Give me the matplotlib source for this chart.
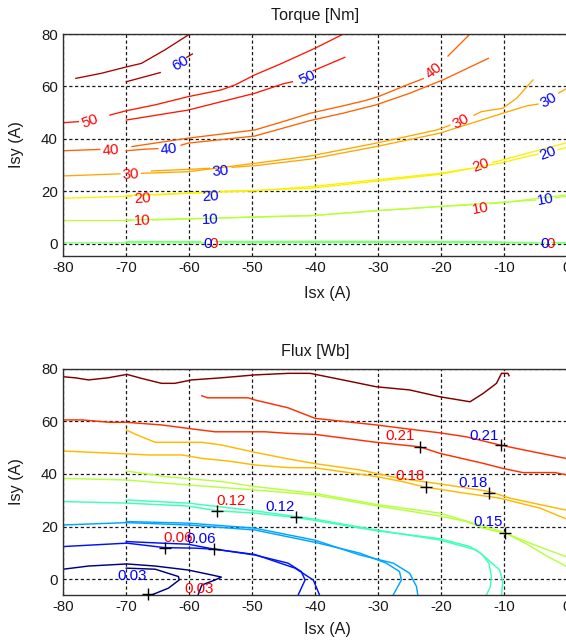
import numpy as np
import matplotlib
matplotlib.use("Agg")
import matplotlib.pyplot as plt
from matplotlib import colors

plt.rcParams['font.family'] = ['Liberation Sans', 'DejaVu Sans']
plt.rcParams['axes.unicode_minus'] = False

# ---------------- Torque [Nm] contour lines (two contour sets) ----------------
torque_levels = [0, 10, 20, 30, 40, 50, 60]

# set A (red labels), None = gap left for an inline label
tq_A_0 = [(-80, 0.4), (-57.4, 0.4), None, (-55.0, 0.4), (-40, 0.5), (-20, 0.5), (-10, 0.4), (-3.6, 0.3), None, (-1.6, 0.3), (0, 0.3)]
tq_A_10 = [(-80, 8.9), (-70, 8.9), (-69.2, 8.9), None, (-65.8, 9.1), (-60.2, 9.5), (-49.6, 10.2), (-40.8, 10.7), (-30.3, 12.7), (-20.2, 14.2), (-15.2, 14.9), None, (-12.2, 15.3), (-10.2, 15.7), (0, 18.7)]
tq_A_20 = [(-80, 17.4), (-70, 18.1), (-69.2, 18.2), None, (-65.6, 18.6), (-60.2, 19.3), (-49.6, 20.2), (-40.8, 21.8), (-30.3, 24.4), (-20.2, 26.9), (-15.6, 28.7), None, (-11.8, 31.1), (-10.2, 32.0), (-5, 35.4), (0, 38.6)]
tq_A_30 = [(-80, 25.9), (-71, 26.7), None, (-67.6, 26.9), (-60.2, 27.5), (-49.6, 30.7), (-40.8, 33.5), (-30.3, 38.4), (-20.7, 43.4), (-18.6, 45.2), None, (-14.8, 49.0), (-13.6, 50.4), (-10.2, 51.7), (-8, 55.5), (-5.4, 62.5)]
tq_A_40 = [(-80, 35.5), (-74.2, 36.0), None, (-69.1, 37.1), (-60.2, 40.3), (-49.6, 43.4), (-44.3, 47.2), (-40.8, 49.8), (-35.6, 52.6), (-32.1, 54.6), (-30, 56.1), (-25, 61.0), (-22.8, 63.0), None, (-18.9, 71.6), (-15.4, 80)]
tq_A_50 = [(-80, 46.2), (-77.6, 46.6), None, (-72.6, 49.1), (-69.9, 50.8), (-65.4, 53.0), (-60.2, 56.1), (-54.9, 58.7), (-52.7, 60.6), (-49.6, 64.4), (-45.3, 68.8), (-40, 74.6), (-35.5, 80)]
tq_A_60 = [(-78, 63.1), (-74, 65.0), (-69.9, 67.5), (-67.6, 68.8), (-63.9, 73.9), (-59.9, 80)]

# set B (blue labels)
tq_B_0 = [(-70, 0.9), (-58.2, 0.9), None, (-55.8, 0.9), (-40, 1.0), (-15, 0.9), (-8, 0.6), (-4.8, 0.5), None, (-2.4, 0.5), (0, 0.5)]
tq_B_10 = [(-70, 9.1), (-60.2, 9.6), (-58.3, 9.7), None, (-55.1, 9.9), (-49.6, 10.3), (-40, 10.9), (-30.3, 12.6), (-20.2, 14.3), (-10.2, 15.9), (-5, 16.7), None, (-1.8, 17.6), (0, 18.2)]
tq_B_20 = [(-70, 18.4), (-60.2, 19.4), (-58.3, 19.6), None, (-55, 20.0), (-49.6, 20.4), (-40.8, 21.2), (-30.3, 23.9), (-20.2, 26.5), (-10.2, 31.0), (-6.4, 33.3), (-4.6, 34.2), None, (-1.4, 35.9), (0, 36.8)]
tq_B_30 = [(-66, 27.8), (-60.2, 28.4), (-56.8, 28.8), None, (-53.2, 29.2), (-49.6, 29.8), (-40.8, 32.3), (-30.3, 37.1), (-20.2, 42.2), (-14.4, 46.6), (-10.2, 49.8), (-6.4, 52.6), (-4.6, 53.3), None, (-1.3, 57.5), (0, 59.3)]
tq_B_40 = [(-70, 35.5), (-67, 36.1), (-65, 36.3), None, (-61.3, 37.6), (-60.2, 38.4), (-49.6, 41.1), (-40.8, 47.0), (-35.6, 49.8), (-30.3, 53.0), (-25, 57.4), (-19.7, 62.5), (-12.5, 70.7)]
tq_B_50 = [(-70, 47.2), (-60.2, 51.0), (-54.9, 54.2), (-49.6, 57.4), (-45.1, 61.0), (-43.6, 61.8), None, (-40.3, 66.0), (-35.3, 71.1)]
tq_B_60 = [(-70, 61.8), (-64.6, 65.3), None, (-60.4, 71.1), (-59.5, 72.4)]

torque_A_lines = [tq_A_0, tq_A_10, tq_A_20, tq_A_30, tq_A_40, tq_A_50, tq_A_60]
torque_B_lines = [tq_B_0, tq_B_10, tq_B_20, tq_B_30, tq_B_40, tq_B_50, tq_B_60]

torque_red_label_text = ["50", "40", "30", "20", "10", "0", "40", "30", "20", "10", "0"]
torque_red_label_x = [-75.8, -72.5, -69.3, -67.4, -67.5, -56.2, -21.1, -16.8, -13.7, -13.7, -2.6]
torque_red_label_y = [46.6, 35.8, 26.5, 17.4, 9.0, 0.0, 66.0, 46.7, 29.8, 13.6, 0.0]
torque_red_label_rot = [20, 4, 3, 3, 2, 0, 38, 28, 20, 10, 0]

torque_blue_label_text = ["60", "50", "40", "30", "20", "10", "0", "30", "20", "10", "0"]
torque_blue_label_x = [-61.4, -41.3, -63.2, -55.0, -56.6, -56.7, -57.0, -2.9, -3.0, -3.4, -3.6]
torque_blue_label_y = [68.8, 63.4, 36.2, 27.7, 17.9, 9.2, 0.0, 54.9, 34.4, 16.8, 0.0]
torque_blue_label_rot = [30, 25, 5, 5, 3, 2, 0, 30, 20, 10, 0]

# ---------------- Flux [Wb] contour lines ----------------
flux_levels_A = [0.03, 0.06, 0.09, 0.12, 0.15, 0.18, 0.21, 0.24]
flux_levels_B = [0.03, 0.06, 0.09, 0.12, 0.15, 0.18, 0.21]

fx_A_003 = [(-80, 3.8), (-76, 5.0), (-69.9, 5.8), (-65.4, 5.0), (-60.2, 3.5), (-56.4, 1.6), (-54.9, 0.8), (-55.9, -0.3), (-58, -2.2), (-58.6, -6)]
fx_A_006 = [(-80, 12.4), (-69.9, 13.7), (-63.9, 12.0), (-59.1, 11.8), (-55.9, 11.4), (-49.6, 9.2), (-44.3, 6.1), (-42.2, 2.9), (-41.6, -0.3), (-42.7, -6)]
fx_A_009 = [(-80, 20.6), (-69.9, 21.5), (-60.2, 20.6), (-49.6, 18.7), (-40, 14.0), (-32.9, 9.9), (-28.7, 6.1), (-26.6, 2.9), (-26.3, -0.3), (-27.6, -6)]
fx_A_012 = [(-80, 29.5), (-69.9, 28.9), (-60.2, 27.8), (-55.6, 26.0), (-49.6, 25.1), (-43.2, 23.5), (-40, 22.3), (-30.3, 18.4), (-20.2, 15.4), (-15.4, 12.4), (-13.5, 9.5), (-12.4, 6.0), (-12.0, 1.0), (-12.2, -3), (-12.8, -6)]
fx_A_015 = [(-80, 38.3), (-70, 37.7), (-60.2, 35.8), (-49.6, 33.9), (-40, 32.0), (-30.3, 27.9), (-20.2, 24.0), (-16, 21.9), (-13.3, 19.4), (-9.6, 17.3), (-5.9, 13.7), (0, 8.4)]
fx_A_018 = [(-80, 48.7), (-71.8, 47.8), (-66.5, 47.2), (-61.2, 47.2), (-58, 45.9), (-53.8, 44.9), (-49.6, 43.4), (-44.3, 42.4), (-40, 42.3), (-30.3, 39.0), (-26.6, 37.3), (-22.3, 34.9), (-16, 32.6), (-10.7, 30.8), (-4.3, 27.0), (0, 22.8)]
fx_A_021 = [(-80, 60.5), (-77, 60.5), (-72.6, 59.6), (-70, 59.6), (-64.4, 58.6), (-59.6, 57.1), (-55.9, 56.0), (-48, 56.0), (-44.3, 55.4), (-40, 55.0), (-30.3, 52.0), (-23.4, 50.3), (-20.2, 47.8), (-13.3, 44.0), (-10.2, 42.1), (-7, 40.5), (-1.9, 40.5), (0, 39.6)]
fx_A_024 = [(-80, 76.9), (-78.1, 76.5), (-76, 75.7), (-72.9, 76.5), (-69.9, 77.8), (-67.6, 76.3), (-64.4, 74.4), (-62.3, 74.4), (-59.6, 75.7), (-54.9, 76.5), (-49.6, 77.6), (-44.3, 78.2), (-40.8, 78.2), (-35.6, 75.7), (-30.3, 73.1), (-25, 71.9), (-20.2, 69.3), (-15.4, 67.4), (-13.3, 70.6), (-11.2, 74.4), (-10.4, 78.2), (-9.4, 78.2), (-9.2, 77.3)]

fx_B_003 = [(-70, 4.2), (-65.4, 3.8), (-61.7, 1.0), (-61.6, -0.3), (-63.3, -3.4), (-66, -6)]
fx_B_006 = [(-70, 14.3), (-64.4, 13.7), (-60.2, 13.3), (-56, 11.4), (-49.6, 9.4), (-43.2, 4.2), (-40.3, -0.3), (-39.3, -6)]
fx_B_009 = [(-70, 21.9), (-60.2, 21.3), (-49.6, 19.4), (-40, 14.8), (-32.9, 9.2), (-27.6, 6.1), (-25, 2.3), (-23.9, -2.8), (-23.7, -6)]
fx_B_012 = [(-70, 30.1), (-60.2, 28.9), (-49.6, 26.0), (-43.1, 23.8), (-40, 22.8), (-30.3, 18.7), (-20.2, 14.9), (-14.4, 11.1), (-12.8, 8.0), (-10.7, 3.5), (-10.2, -0.9), (-10.4, -6)]
fx_B_015 = [(-70, 41.1), (-63.9, 39.0), (-54.9, 37.1), (-49.6, 35.2), (-40, 32.6), (-30.3, 28.4), (-20.2, 25.1), (-12.8, 19.8), (-9.9, 17.7), (-6.5, 13.5), (-3, 8.5), (0, 4.8)]
fx_B_018 = [(-70, 56.7), (-68.3, 54.8), (-65.4, 52.0), (-58, 52.0), (-54.9, 51.0), (-49.6, 48.2), (-44.3, 45.7), (-40, 43.9), (-32.9, 41.5), (-26.6, 38.3), (-20.2, 36.2), (-12.3, 33.3), (-9.1, 30.8), (-5.4, 28.9), (0, 26.2)]
fx_B_021 = [(-58, 69.7), (-57.1, 68.9), (-50.6, 68.9), (-49.6, 68.1), (-44.3, 65.1), (-40, 61.1), (-30.3, 58.6), (-25, 57.0), (-20.2, 55.6), (-16, 54.1), (-10.7, 51.0), (-5.4, 48.4), (0, 45.8)]

flux_A_lines = [fx_A_003, fx_A_006, fx_A_009, fx_A_012, fx_A_015, fx_A_018, fx_A_021, fx_A_024]
flux_B_lines = [fx_B_003, fx_B_006, fx_B_009, fx_B_012, fx_B_015, fx_B_018, fx_B_021]

flux_red_label_text = ["0.21", "0.18", "0.12", "0.06", "0.03"]
flux_red_label_x = [-26.55, -24.9, -53.35, -61.75, -58.4]
flux_red_label_y = [54.3, 39.2, 29.8, 15.5, -3.9]
flux_red_plus_x = [-23.4, -22.4, -55.6, -63.9]
flux_red_plus_y = [50.4, 34.9, 26.0, 12.0]

flux_blue_label_text = ["0.21", "0.18", "0.15", "0.12", "0.06", "0.03"]
flux_blue_label_x = [-13.2, -14.95, -12.55, -45.55, -58.1, -69.15]
flux_blue_label_y = [54.3, 36.4, 21.6, 27.6, 15.2, 1.3]
flux_blue_plus_x = [-10.5, -12.4, -9.9, -43.1, -56.0, -66.6]
flux_blue_plus_y = [50.9, 32.9, 17.7, 23.8, 11.4, -5.7]

x_ticks = [-80, -70, -60, -50, -40, -30, -20, -10, 0]
y_ticks = [0, 20, 40, 60, 80]


def to_xy(pts):
    xs, ys = [], []
    for p in pts:
        if p is None:
            xs.append(np.nan)
            ys.append(np.nan)
        else:
            xs.append(p[0])
            ys.append(p[1])
    return np.array(xs), np.array(ys)


W, H = 566, 641
fig = plt.figure(figsize=(W / 100, H / 100), dpi=100)
fig.patch.set_facecolor('white')

ax_left = 63.3 / W
ax_w = (567.0 - 63.3) / W
ax1 = fig.add_axes([ax_left, 1 - 255.7 / H, ax_w, (255.7 - 34.0) / H])
ax2 = fig.add_axes([ax_left, 1 - 595.0 / H, ax_w, (595.0 - 368.6) / H])

TICK_FS = 10.8
LABEL_FS = 11.6
CL_FS = 10.8
tick_color = '#1a1a1a'


def style_axes(ax, ylo, title, title_pad, xlab_y):
    ax.set_xlim(-80, 0)
    ax.set_ylim(ylo, 80)
    ax.set_xticks(x_ticks)
    ax.set_yticks(y_ticks)
    ax.set_xticklabels([str(v) for v in x_ticks])
    ax.set_yticklabels([str(v) for v in y_ticks])
    ax.tick_params(axis='both', length=0, labelsize=TICK_FS, colors=tick_color)
    ax.tick_params(axis='x', pad=3.6)
    ax.tick_params(axis='y', pad=4.0)
    ax.grid(True, color='#1a1a1a', linestyle=(0, (2.6, 2.0)), linewidth=0.9, zorder=0)
    ax.set_axisbelow(True)
    for s in ax.spines.values():
        s.set_color('#303030')
        s.set_linewidth(1.0)
    ax.set_title(title, fontsize=LABEL_FS, color='#1a1a1a', pad=title_pad)
    ax.set_xlabel('Isx (A)', fontsize=LABEL_FS, color='#1a1a1a')
    ax.set_ylabel('Isy (A)', fontsize=LABEL_FS, color='#1a1a1a')
    ax.xaxis.set_label_coords(0.525, xlab_y)
    ax.yaxis.set_label_coords(-0.078, 0.5)


style_axes(ax1, -4.5, 'Torque [Nm]', 10.0, -0.136)
style_axes(ax2, -6.0, 'Flux [Wb]', 8.8, -0.119)

jet = plt.get_cmap('jet')
tq_norm = colors.Normalize(vmin=-65, vmax=65)
fx_norm = colors.Normalize(vmin=0.03, vmax=0.24)

# torque lines
for lev, pts in zip(torque_levels, torque_A_lines):
    x, y = to_xy(pts)
    ax1.plot(x, y, color=jet(tq_norm(lev)), lw=0.95, zorder=2)
for lev, pts in zip(torque_levels, torque_B_lines):
    x, y = to_xy(pts)
    ax1.plot(x, y, color=jet(tq_norm(lev)), lw=0.95, zorder=2)

for t, x, y, r in zip(torque_red_label_text, torque_red_label_x, torque_red_label_y, torque_red_label_rot):
    ax1.text(x, y, t, color='#ff0000', fontsize=CL_FS, rotation=r, ha='center', va='center',
             rotation_mode='anchor', zorder=4)
for t, x, y, r in zip(torque_blue_label_text, torque_blue_label_x, torque_blue_label_y, torque_blue_label_rot):
    ax1.text(x, y, t, color='#0000ff', fontsize=CL_FS, rotation=r, ha='center', va='center',
             rotation_mode='anchor', zorder=4)

# flux lines
for lev, pts in zip(flux_levels_A, flux_A_lines):
    x, y = to_xy(pts)
    ax2.plot(x, y, color=jet(fx_norm(lev)), lw=1.05, zorder=2)
for lev, pts in zip(flux_levels_B, flux_B_lines):
    x, y = to_xy(pts)
    ax2.plot(x, y, color=jet(fx_norm(lev)), lw=1.05, zorder=2)

ax2.plot(flux_red_plus_x, flux_red_plus_y, linestyle='none', marker='+', color='black',
         markersize=8, markeredgewidth=1.0, zorder=5)
ax2.plot(flux_blue_plus_x, flux_blue_plus_y, linestyle='none', marker='+', color='black',
         markersize=8, markeredgewidth=1.0, zorder=5, clip_on=False)
for t, x, y in zip(flux_red_label_text, flux_red_label_x, flux_red_label_y):
    ax2.text(x, y, t, color='#ff0000', fontsize=CL_FS, ha='center', va='center', zorder=4)
for t, x, y in zip(flux_blue_label_text, flux_blue_label_x, flux_blue_label_y):
    ax2.text(x, y, t, color='#0000ff', fontsize=CL_FS, ha='center', va='center', zorder=4)

fig.savefig('out.png', dpi=100, facecolor='white')
